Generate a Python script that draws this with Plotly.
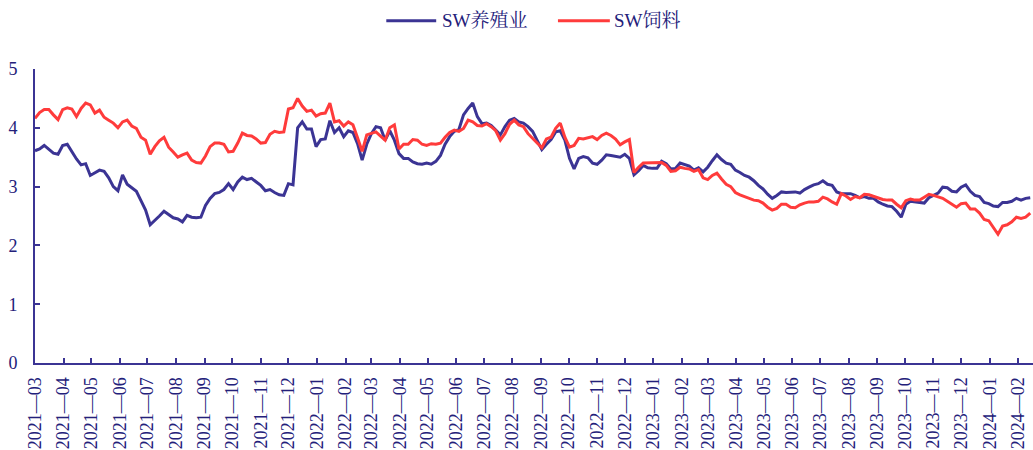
import pandas as pd
import plotly.graph_objects as go

# Sample dates (every 5 calendar days) and index levels for the two SW sectors
start_date = "2021-03-01"
n_points = 217

sw_breeding = [
    3.61, 3.64, 3.70, 3.63, 3.57, 3.55, 3.70, 3.72, 3.59, 3.47,
    3.37, 3.39, 3.19, 3.24, 3.28, 3.26, 3.15, 3.00, 2.93, 3.20,
    3.04, 2.98, 2.92, 2.76, 2.60, 2.35, 2.42, 2.50, 2.58, 2.53,
    2.47, 2.45, 2.40, 2.51, 2.48, 2.47, 2.48, 2.68, 2.80, 2.88,
    2.90, 2.95, 3.05, 2.95, 3.08, 3.16, 3.12, 3.14, 3.08, 3.02,
    2.93, 2.95, 2.90, 2.86, 2.85, 3.05, 3.03, 4.00, 4.10, 3.98,
    3.98, 3.68, 3.80, 3.81, 4.12, 3.92, 4.00, 3.85, 3.95, 3.92,
    3.73, 3.45, 3.72, 3.90, 4.02, 4.00, 3.79, 3.95, 3.79, 3.56,
    3.48, 3.48, 3.42, 3.39, 3.38, 3.40, 3.38, 3.43, 3.53, 3.72,
    3.85, 3.94, 3.97, 4.22, 4.33, 4.42, 4.19, 4.07, 4.08, 4.04,
    3.96, 3.88, 4.02, 4.13, 4.16, 4.10, 4.08, 4.02, 3.94, 3.77,
    3.63, 3.72, 3.80, 3.93, 3.95, 3.79, 3.48, 3.30, 3.48, 3.51,
    3.49, 3.40, 3.38, 3.45, 3.54, 3.53, 3.51, 3.50, 3.55, 3.48,
    3.20, 3.27, 3.36, 3.32, 3.31, 3.31, 3.43, 3.39, 3.30, 3.31,
    3.40, 3.37, 3.35, 3.28, 3.32, 3.25, 3.33, 3.44, 3.54, 3.46,
    3.40, 3.38, 3.28, 3.24, 3.19, 3.16, 3.10, 3.02, 2.96, 2.87,
    2.80, 2.85, 2.91, 2.90, 2.90, 2.91, 2.89, 2.95, 2.99, 3.03,
    3.05, 3.10, 3.04, 3.02, 2.91, 2.88, 2.88, 2.88, 2.85, 2.81,
    2.83, 2.80, 2.80, 2.74, 2.70, 2.67, 2.66, 2.58, 2.48, 2.70,
    2.75, 2.74, 2.74, 2.72, 2.81, 2.85, 2.89, 2.99, 2.98, 2.92,
    2.91, 2.99, 3.03, 2.92, 2.85, 2.83, 2.73, 2.71, 2.67, 2.66,
    2.73, 2.73, 2.75, 2.80, 2.77, 2.80, 2.81,
]

sw_feed = [
    4.16, 4.26, 4.31, 4.31, 4.22, 4.14, 4.31, 4.34, 4.32, 4.19,
    4.33, 4.42, 4.39, 4.25, 4.30, 4.18, 4.13, 4.08, 4.00, 4.10,
    4.13, 4.03, 3.99, 3.84, 3.79, 3.55, 3.68, 3.78, 3.84, 3.67,
    3.59, 3.50, 3.54, 3.57, 3.45, 3.41, 3.40, 3.52, 3.68, 3.74,
    3.74, 3.72, 3.59, 3.60, 3.74, 3.91, 3.87, 3.86, 3.81, 3.74,
    3.75, 3.89, 3.94, 3.92, 3.93, 4.32, 4.34, 4.50, 4.37, 4.28,
    4.30, 4.20, 4.24, 4.25, 4.42, 4.10, 4.12, 4.03, 4.10, 4.05,
    3.83, 3.60, 3.88, 3.90, 3.93, 3.86, 3.79, 4.00, 4.05, 3.64,
    3.72, 3.72, 3.80, 3.79, 3.72, 3.70, 3.73, 3.72, 3.74, 3.84,
    3.92, 3.96, 3.94, 3.99, 4.13, 4.10, 4.04, 4.03, 4.07, 4.02,
    3.95, 3.79, 3.90, 4.06, 4.13, 4.05, 4.02, 3.90, 3.82, 3.75,
    3.66, 3.81, 3.84, 3.99, 4.08, 3.84, 3.67, 3.70, 3.82, 3.81,
    3.83, 3.85, 3.80, 3.87, 3.91, 3.87, 3.81, 3.71, 3.76, 3.80,
    3.24, 3.33, 3.40, 3.40, 3.40, 3.40, 3.41, 3.36, 3.26, 3.27,
    3.33, 3.31, 3.30, 3.26, 3.29, 3.15, 3.12, 3.19, 3.23, 3.13,
    3.04, 3.00, 2.90, 2.86, 2.83, 2.81, 2.77, 2.76, 2.72, 2.65,
    2.60, 2.63, 2.70, 2.70, 2.65, 2.64, 2.69, 2.72, 2.74, 2.74,
    2.75, 2.82, 2.79, 2.74, 2.70, 2.88, 2.84, 2.78, 2.83, 2.81,
    2.87, 2.86, 2.83, 2.80, 2.78, 2.77, 2.77, 2.70, 2.64, 2.76,
    2.79, 2.77, 2.77, 2.82, 2.87, 2.85, 2.82, 2.80, 2.75, 2.70,
    2.65, 2.71, 2.72, 2.62, 2.62, 2.55, 2.44, 2.42, 2.30, 2.19,
    2.33, 2.35, 2.40, 2.48, 2.46, 2.48, 2.55,
]

series_names = ["SW养殖业", "SW饲料"]
x_range = ["2021-03-01", "2024-02-17"]
y_ticks = [0, 1, 2, 3, 4, 5]

dates = pd.date_range(start_date, periods=n_points, freq="5D")

NAVY = "#3B3494"
RED = "#FF3B3B"
TEXT = "#23207A"
FONT = "'Liberation Serif', 'Noto Serif CJK SC', 'Noto Sans CJK SC', serif"

fig = go.Figure()
fig.add_trace(go.Scatter(x=dates, y=sw_breeding, mode="lines", name=series_names[0],
                         line=dict(color=NAVY, width=3)))
fig.add_trace(go.Scatter(x=dates, y=sw_feed, mode="lines", name=series_names[1],
                         line=dict(color=RED, width=3)))

fig.update_layout(
    width=1033, height=450,
    margin=dict(l=35, r=0, t=69, b=87),
    paper_bgcolor="white", plot_bgcolor="white",
    showlegend=False,
    font=dict(family=FONT, color=TEXT, size=18),
)

fig.update_xaxes(
    type="date", range=x_range,
    tick0="2021-03-01", dtick="M1", tickformat="%Y\u2014%m",
    tickangle=-90, ticks="inside", ticklen=5, tickwidth=2, tickcolor=NAVY,
    showline=True, linecolor=NAVY, linewidth=2, showgrid=False, zeroline=False,
    tickfont=dict(family=FONT, color=TEXT, size=18),
    ticklabelstandoff=5,
)
fig.update_yaxes(
    range=[0, 5], tickvals=y_ticks,
    ticks="inside", ticklen=5, tickwidth=2, tickcolor=NAVY,
    showline=True, linecolor=NAVY, linewidth=2, showgrid=False, zeroline=False,
    tickfont=dict(family=FONT, color=TEXT, size=18),
    ticklabelstandoff=12,
)

# Legend drawn as line samples with text labels above the plot
legend_y = 1.164
legend_items = [
    (0.352, 0.402, 0.4055, NAVY, series_names[0]),
    (0.524, 0.576, 0.5785, RED, series_names[1]),
]
for x0, x1, xt, color, label in legend_items:
    fig.add_shape(type="line", xref="paper", yref="paper", x0=x0, x1=x1,
                  y0=legend_y, y1=legend_y, line=dict(color=color, width=3))
    fig.add_annotation(xref="paper", yref="paper", x=xt, y=legend_y, text=label,
                       showarrow=False, xanchor="left", yanchor="middle",
                       font=dict(family=FONT, color=TEXT, size=19))

fig.write_html("out.html")
